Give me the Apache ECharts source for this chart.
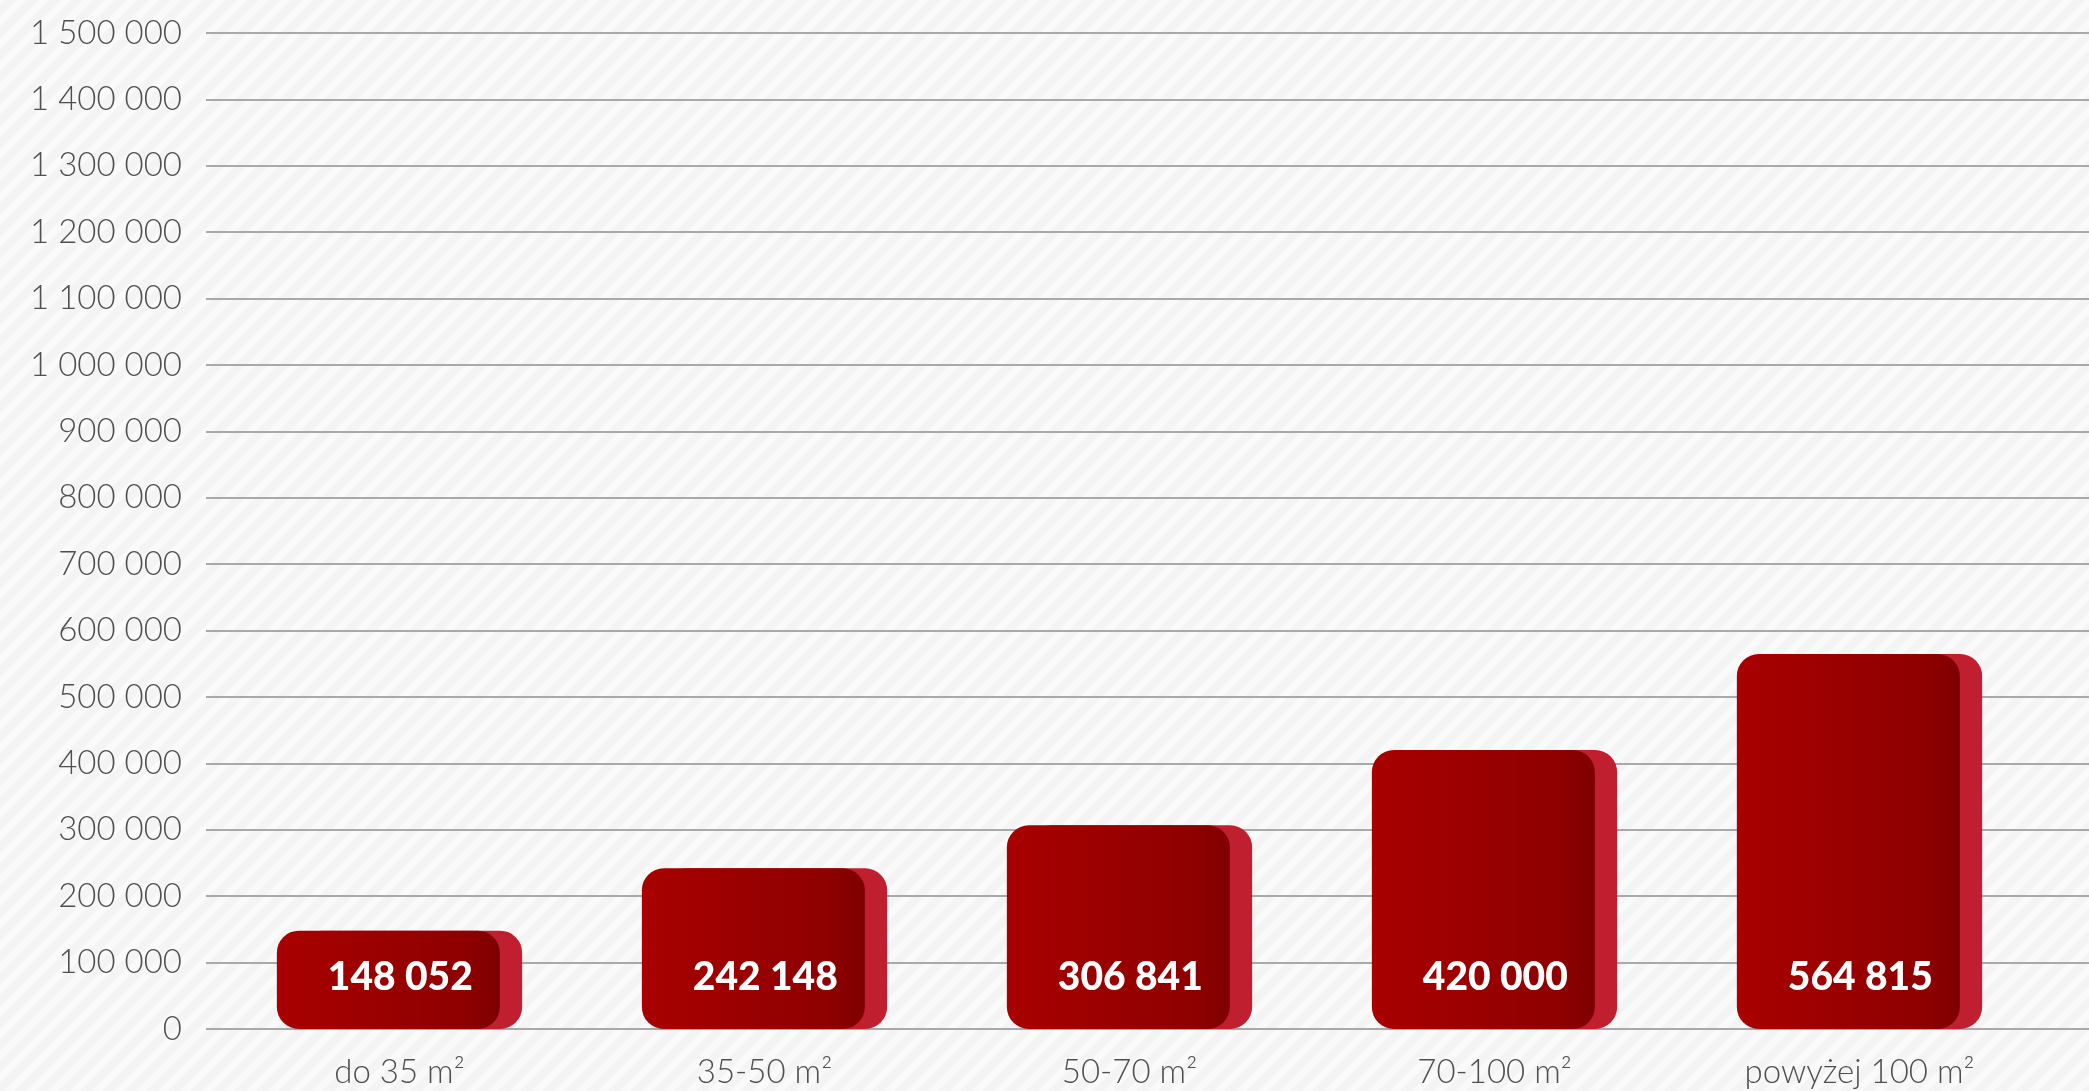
<!DOCTYPE html>
<html>
<head>
<meta charset="utf-8">
<script src="https://cdn.jsdelivr.net/npm/echarts@6/dist/echarts.min.js"></script>
<style>
html,body{margin:0;padding:0;width:2089px;height:1091px;overflow:hidden;}
#main{width:2089px;height:1091px;}
</style>
</head>
<body>
<div id="main"></div>
<script>
var categories = ['do 35 m²', '35-50 m²', '50-70 m²', '70-100 m²', 'powyżej 100 m²'];
var values = [148052, 242148, 306841, 420000, 564815];
var yTicks = { min: 0, max: 1500000, interval: 100000 };

function fmt(v) {
  return String(v).replace(/\B(?=(\d{3})+(?!\d))/g, ' ');
}

// diagonal stripe background pattern
var tile = document.createElement('canvas');
tile.width = 22; tile.height = 22;
var c = tile.getContext('2d');
c.fillStyle = '#f4f4f4';
c.fillRect(0, 0, 22, 22);
c.strokeStyle = '#fafafa';
c.lineWidth = 7;
c.beginPath();
c.moveTo(-11, 11); c.lineTo(11, -11);
c.moveTo(0, 22); c.lineTo(22, 0);
c.moveTo(11, 33); c.lineTo(33, 11);
c.stroke();

var chart = echarts.init(document.getElementById('main'), null, { renderer: 'canvas' });

var frontColor = new echarts.graphic.LinearGradient(0, 0, 1, 0, [
  { offset: 0, color: '#a90000' },
  { offset: 0.85, color: '#8e0000' },
  { offset: 1, color: '#7e0000' }
]);

var axisFont = { color: '#4f4f4f', fontSize: 33, fontFamily: 'Lato', fontWeight: 300 };

chart.setOption({
  backgroundColor: { image: tile, repeat: 'repeat' },
  animation: false,
  grid: [
    { left: 206, right: 0, top: 33, bottom: 62 },
    { left: 217, right: 47, top: 33, bottom: 62 }
  ],
  xAxis: [
    { type: 'category', gridIndex: 0, data: categories, show: false },
    {
      type: 'category', gridIndex: 1, data: categories,
      axisLine: { show: false }, axisTick: { show: false },
      axisLabel: Object.assign({ margin: 27 }, axisFont)
    }
  ],
  yAxis: [
    {
      type: 'value', gridIndex: 0, min: yTicks.min, max: yTicks.max, interval: yTicks.interval,
      axisLine: { show: false }, axisTick: { show: false },
      splitLine: { lineStyle: { color: '#a9a9ab', width: 2 } },
      axisLabel: Object.assign({ margin: 24, formatter: function (v) { return fmt(v); } }, axisFont)
    },
    {
      type: 'value', gridIndex: 1, min: yTicks.min, max: yTicks.max, interval: yTicks.interval,
      show: false, splitLine: { show: false }
    }
  ],
  series: [
    {
      type: 'bar', xAxisIndex: 1, yAxisIndex: 1, data: values,
      barWidth: 223, barGap: '-90%', z: 4,
      itemStyle: { color: frontColor, borderRadius: 22 },
      label: {
        show: true, position: 'insideBottom', distance: 32, offset: [12, 0],
        color: '#ffffff', fontSize: 39, fontWeight: 900, fontFamily: 'Lato',
        formatter: function (p) { return fmt(p.value); }
      }
    },
    {
      type: 'bar', xAxisIndex: 1, yAxisIndex: 1, data: values,
      barWidth: 223, z: 3,
      itemStyle: { color: '#c01f30', borderRadius: 22 }
    }
  ]
});
</script>
</body>
</html>
